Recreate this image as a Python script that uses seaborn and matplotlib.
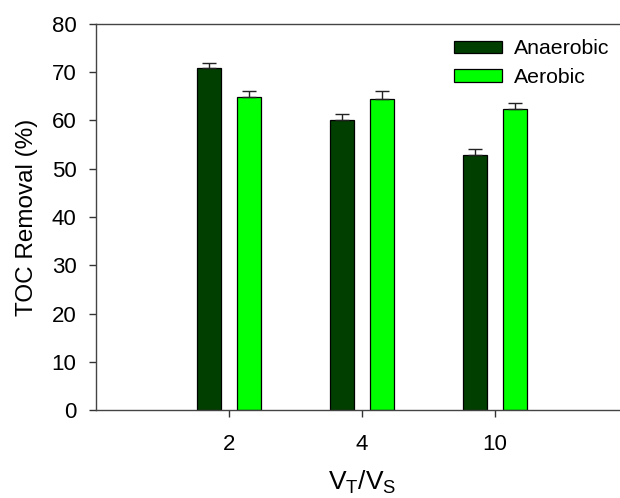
import matplotlib
matplotlib.use("Agg")
import matplotlib.pyplot as plt
import seaborn as sns
import pandas as pd

# Data: TOC removal by volume ratio and reactor condition
ratios = ["2", "4", "10"]
anaerobic = [70.8, 60.2, 52.8]
aerobic = [64.8, 64.4, 62.3]
anaerobic_err = [1.2, 1.1, 1.2]
aerobic_err = [1.4, 1.8, 1.3]
conditions = ["Anaerobic", "Aerobic"]
colors = ["#003f00", "#00ff00"]

df = pd.DataFrame({
    "ratio": ratios * 2,
    "removal": anaerobic + aerobic,
    "condition": [conditions[0]] * 3 + [conditions[1]] * 3,
})
errors = {conditions[0]: anaerobic_err, conditions[1]: aerobic_err}

sns.set_style("white")
plt.rcParams["font.family"] = ["Liberation Sans", "DejaVu Sans"]
plt.rcParams["mathtext.fontset"] = "custom"
plt.rcParams["mathtext.rm"] = "Liberation Sans"
plt.rcParams["text.color"] = "black"
plt.rcParams["axes.labelcolor"] = "black"
plt.rcParams["xtick.color"] = "black"
plt.rcParams["ytick.color"] = "black"

FS_TICK = 16
FS_LEG = 15.3

fig = plt.figure(figsize=(6.2, 4.98), dpi=100)
W, H = 620, 498
ax = fig.add_axes([96 / W, 1 - 410 / H, (628 - 96) / W, (410 - 24) / H])

sns.barplot(data=df, x="ratio", y="removal", hue="condition",
            order=ratios, hue_order=conditions, palette=colors,
            saturation=1, width=0.6, gap=0.4, edgecolor="black",
            linewidth=0.9, errorbar=None, ax=ax, legend=True)

# upper error bars only
for cont, cond in zip(ax.containers, conditions):
    for bar, err in zip(cont, errors[cond]):
        xc = bar.get_x() + bar.get_width() / 2
        ax.errorbar(xc, bar.get_height(), yerr=[[0], [err]], fmt="none",
                    ecolor="#222222", elinewidth=1, capsize=5, capthick=1,
                    zorder=3)

ax.set_xlim(-1.0, 3.0)
ax.set_ylim(0, 80)
ax.set_yticks(range(0, 81, 10))
ax.tick_params(axis="both", which="both", direction="out", length=5,
               width=1, color="#333333", labelcolor="black",
               labelsize=FS_TICK, bottom=True, left=True)
ax.tick_params(axis="y", pad=9)
ax.tick_params(axis="x", pad=12)
for side in ["left", "bottom", "top"]:
    ax.spines[side].set_color("#444444")
    ax.spines[side].set_linewidth(1)
ax.spines["right"].set_visible(False)

ax.set_ylabel("TOC Removal (%)", fontsize=17.5, labelpad=10)
ax.set_xlabel(r"$\mathregular{V_T/V_S}$", fontsize=19, labelpad=10)

handles, labels = ax.get_legend_handles_labels()
leg = ax.legend(handles, labels, loc="upper left",
                bbox_to_anchor=(445 / W, 1 - 31 / H),
                bbox_transform=fig.transFigure, frameon=True,
                fancybox=False, framealpha=1, edgecolor="white",
                facecolor="white", fontsize=FS_LEG, handlelength=2.3,
                handleheight=0.55, handletextpad=0.55, labelspacing=0.45,
                borderpad=0.4, borderaxespad=0)
leg.set_zorder(5)

fig.savefig("out.png", dpi=100)
